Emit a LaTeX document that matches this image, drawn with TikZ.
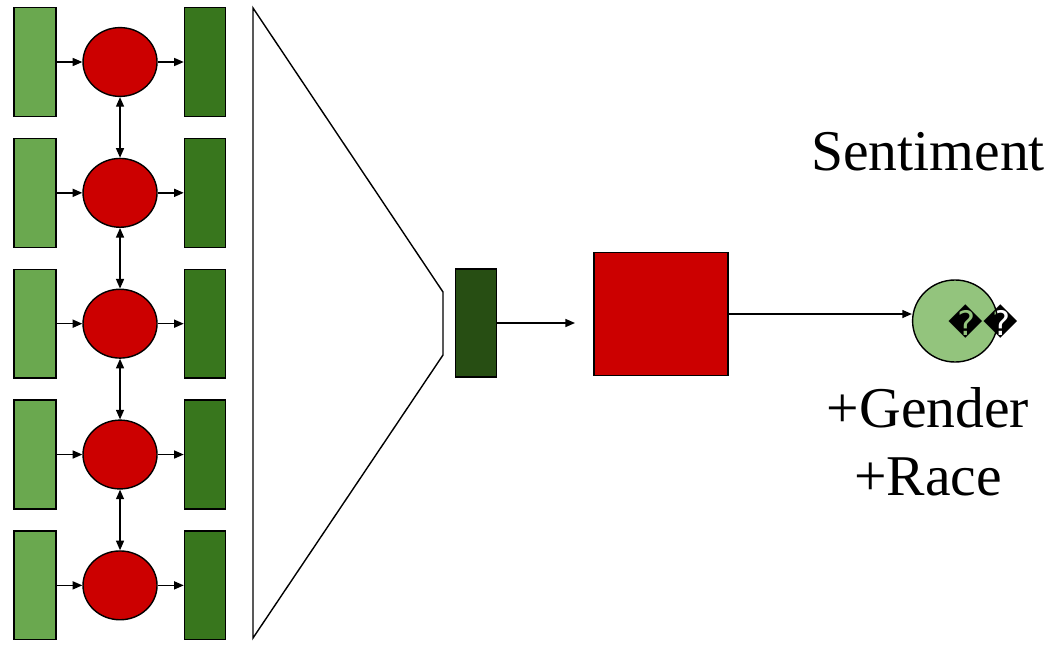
\documentclass[tikz,border=0pt]{standalone}
\usepackage{fontspec}
\setmainfont{Liberation Serif}
\newfontfamily\symfont{DejaVu Sans}
\usepackage{tikz}
\usetikzlibrary{shapes.geometric,arrows.meta,positioning}
\definecolor{embgreen}{HTML}{6AA84F}
\definecolor{hidgreen}{HTML}{38761D}
\definecolor{poolgreen}{HTML}{274E13}
\definecolor{cellred}{HTML}{CC0000}
\definecolor{outgreen}{HTML}{93C47D}

\begin{document}
\begin{tikzpicture}[
    x=0.025cm, y=-0.025cm,
    node distance=0mm,
    inbox/.style={draw, fill=embgreen, minimum width=1.05cm, minimum height=2.72cm, inner sep=0pt, line width=1pt},
    hidbox/.style={draw, fill=hidgreen, minimum width=1.02cm, minimum height=2.72cm, inner sep=0pt, line width=1pt},
    cell/.style={draw, ellipse, fill=cellred, minimum width=1.85cm, minimum height=1.72cm, inner sep=0pt, line width=1pt},
    arr/.style={-{Triangle[length=2.4mm, width=2mm]}, line width=1pt},
    biarr/.style={{Triangle[length=2.4mm, width=2mm]}-{Triangle[length=2.4mm, width=2mm]}, line width=1pt},
    bigtext/.style={font=\fontsize{41}{48}\selectfont, inner sep=0pt, anchor=base}
]
\useasboundingbox (0,0) rectangle (1056,644);

% input column
\node[inbox] (in1) at (35,62) {};
\node[inbox, below=0.515cm of in1] (in2) {};
\node[inbox, below=0.515cm of in2] (in3) {};
\node[inbox, below=0.515cm of in3] (in4) {};
\node[inbox, below=0.515cm of in4] (in5) {};

% recurrent cells
\node[cell, right=0.64cm of in1] (c1) {};
\node[cell, right=0.64cm of in2] (c2) {};
\node[cell, right=0.64cm of in3] (c3) {};
\node[cell, right=0.64cm of in4] (c4) {};
\node[cell, right=0.64cm of in5] (c5) {};

% hidden states
\node[hidbox, right=0.65cm of c1] (h1) {};
\node[hidbox, right=0.65cm of c2] (h2) {};
\node[hidbox, right=0.65cm of c3] (h3) {};
\node[hidbox, right=0.65cm of c4] (h4) {};
\node[hidbox, right=0.65cm of c5] (h5) {};

\draw[arr] (in1) -- (c1);
\draw[arr] (in2) -- (c2);
\draw[arr] (in3) -- (c3);
\draw[arr] (in4) -- (c4);
\draw[arr] (in5) -- (c5);
\draw[arr] (c1) -- (h1);
\draw[arr] (c2) -- (h2);
\draw[arr] (c3) -- (h3);
\draw[arr] (c4) -- (h4);
\draw[arr] (c5) -- (h5);
\draw[biarr] (c1) -- (c2);
\draw[biarr] (c2) -- (c3);
\draw[biarr] (c3) -- (c4);
\draw[biarr] (c4) -- (c5);

% pooling funnel
\draw[line width=1pt, line join=miter] (253,8) -- (443,292) -- (443,355) -- (253,638) -- cycle;

\node[draw, fill=poolgreen, minimum width=1.02cm, minimum height=2.7cm, inner sep=0pt, line width=1pt] (pool) at (476,323) {};
\node[draw, fill=cellred, minimum width=3.35cm, minimum height=3.07cm, inner sep=0pt, line width=1pt] (clf) at (661,314) {};
\node[draw, ellipse, fill=outgreen, minimum width=2.12cm, minimum height=2.05cm, inner sep=0pt, line width=1pt] (pred) at (955,321) {};
\node[font=\symfont\fontsize{24}{24}\selectfont, inner sep=0pt] (predsym) at (983,322) {��};

\coordinate (clfin) at (575,323);
\draw[arr] (pool.east) -- (clfin);
\draw[arr] (clf.east) -- (pred.west |- clf.east);

\node[bigtext] (task) at (928,170) {Sentiment};
\node[bigtext] (attr1) at (928,427) {+Gender};
\node[bigtext] (attr2) at (928,495) {+Race};
\end{tikzpicture}
\end{document}
